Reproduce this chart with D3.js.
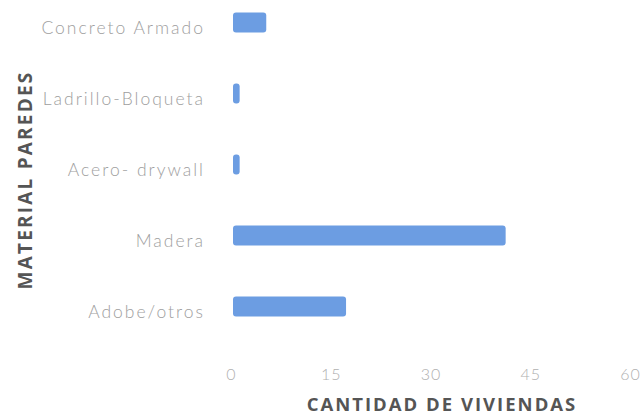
<!DOCTYPE html>
<html>
<head>
<meta charset="utf-8">
<script src="https://cdn.jsdelivr.net/npm/d3@7"></script>
<style>
  html, body { margin: 0; padding: 0; background: #fff; }
  svg { display: block; }
</style>
</head>
<body>
<svg id="chart" width="641" height="415"></svg>
<script>
// Housing count by wall material
const categories = ["Concreto Armado", "Ladrillo-Bloqueta", "Acero- drywall", "Madera", "Adobe/otros"];
const values = [5, 1, 1, 41, 17];
const tickValues = [0, 15, 30, 45, 60];
const xTitle = "CANTIDAD DE VIVIENDAS";
const yTitle = "MATERIAL PAREDES";

const svg = d3.select("#chart");
const font = "Lato, 'Open Sans', sans-serif";

const x = d3.scaleLinear().domain([0, 60]).range([231, 630]);
const y = d3.scaleBand().domain(categories).range([-13, 342]).paddingInner(0.72).paddingOuter(0.36);

// bars
svg.append("g").selectAll("rect")
  .data(categories)
  .join("rect")
  .attr("x", x(0) + 2)
  .attr("y", d => y(d))
  .attr("width", (d, i) => x(values[i]) - x(0))
  .attr("height", y.bandwidth())
  .attr("rx", 3)
  .attr("fill", "#6c9de2");

// category labels
svg.append("g").selectAll("text")
  .data(categories)
  .join("text")
  .attr("x", 205)
  .attr("y", d => y(d) + y.bandwidth() / 2 + 7)
  .attr("text-anchor", "end")
  .attr("dominant-baseline", "middle")
  .attr("font-family", font)
  .attr("font-weight", 300)
  .attr("font-size", 17.5)
  .attr("letter-spacing", 2)
  .attr("fill", "#9e9e9e")
  .text(d => d);

// x axis tick labels
const xAxis = d3.axisBottom(x).tickValues(tickValues).tickSize(0).tickPadding(0);
const gx = svg.append("g").attr("transform", "translate(0,369)").call(xAxis);
gx.select(".domain").remove();
gx.selectAll("text")
  .attr("font-family", font)
  .attr("font-weight", 300)
  .attr("font-size", 16)
  .attr("letter-spacing", 1)
  .attr("fill", "#b0b0b0");

// axis titles
svg.append("text")
  .attr("x", 442)
  .attr("y", 411)
  .attr("text-anchor", "middle")
  .attr("font-family", "'Open Sans', sans-serif")
  .attr("font-weight", "bold")
  .attr("font-size", 18.5)
  .attr("letter-spacing", 2)
  .attr("fill", "#555")
  .text(xTitle);

svg.append("text")
  .attr("transform", "translate(32,180) rotate(-90)")
  .attr("text-anchor", "middle")
  .attr("font-family", "'Open Sans', sans-serif")
  .attr("font-weight", "bold")
  .attr("font-size", 19)
  .attr("letter-spacing", 2.2)
  .attr("fill", "#555")
  .text(yTitle);
</script>
</body>
</html>
